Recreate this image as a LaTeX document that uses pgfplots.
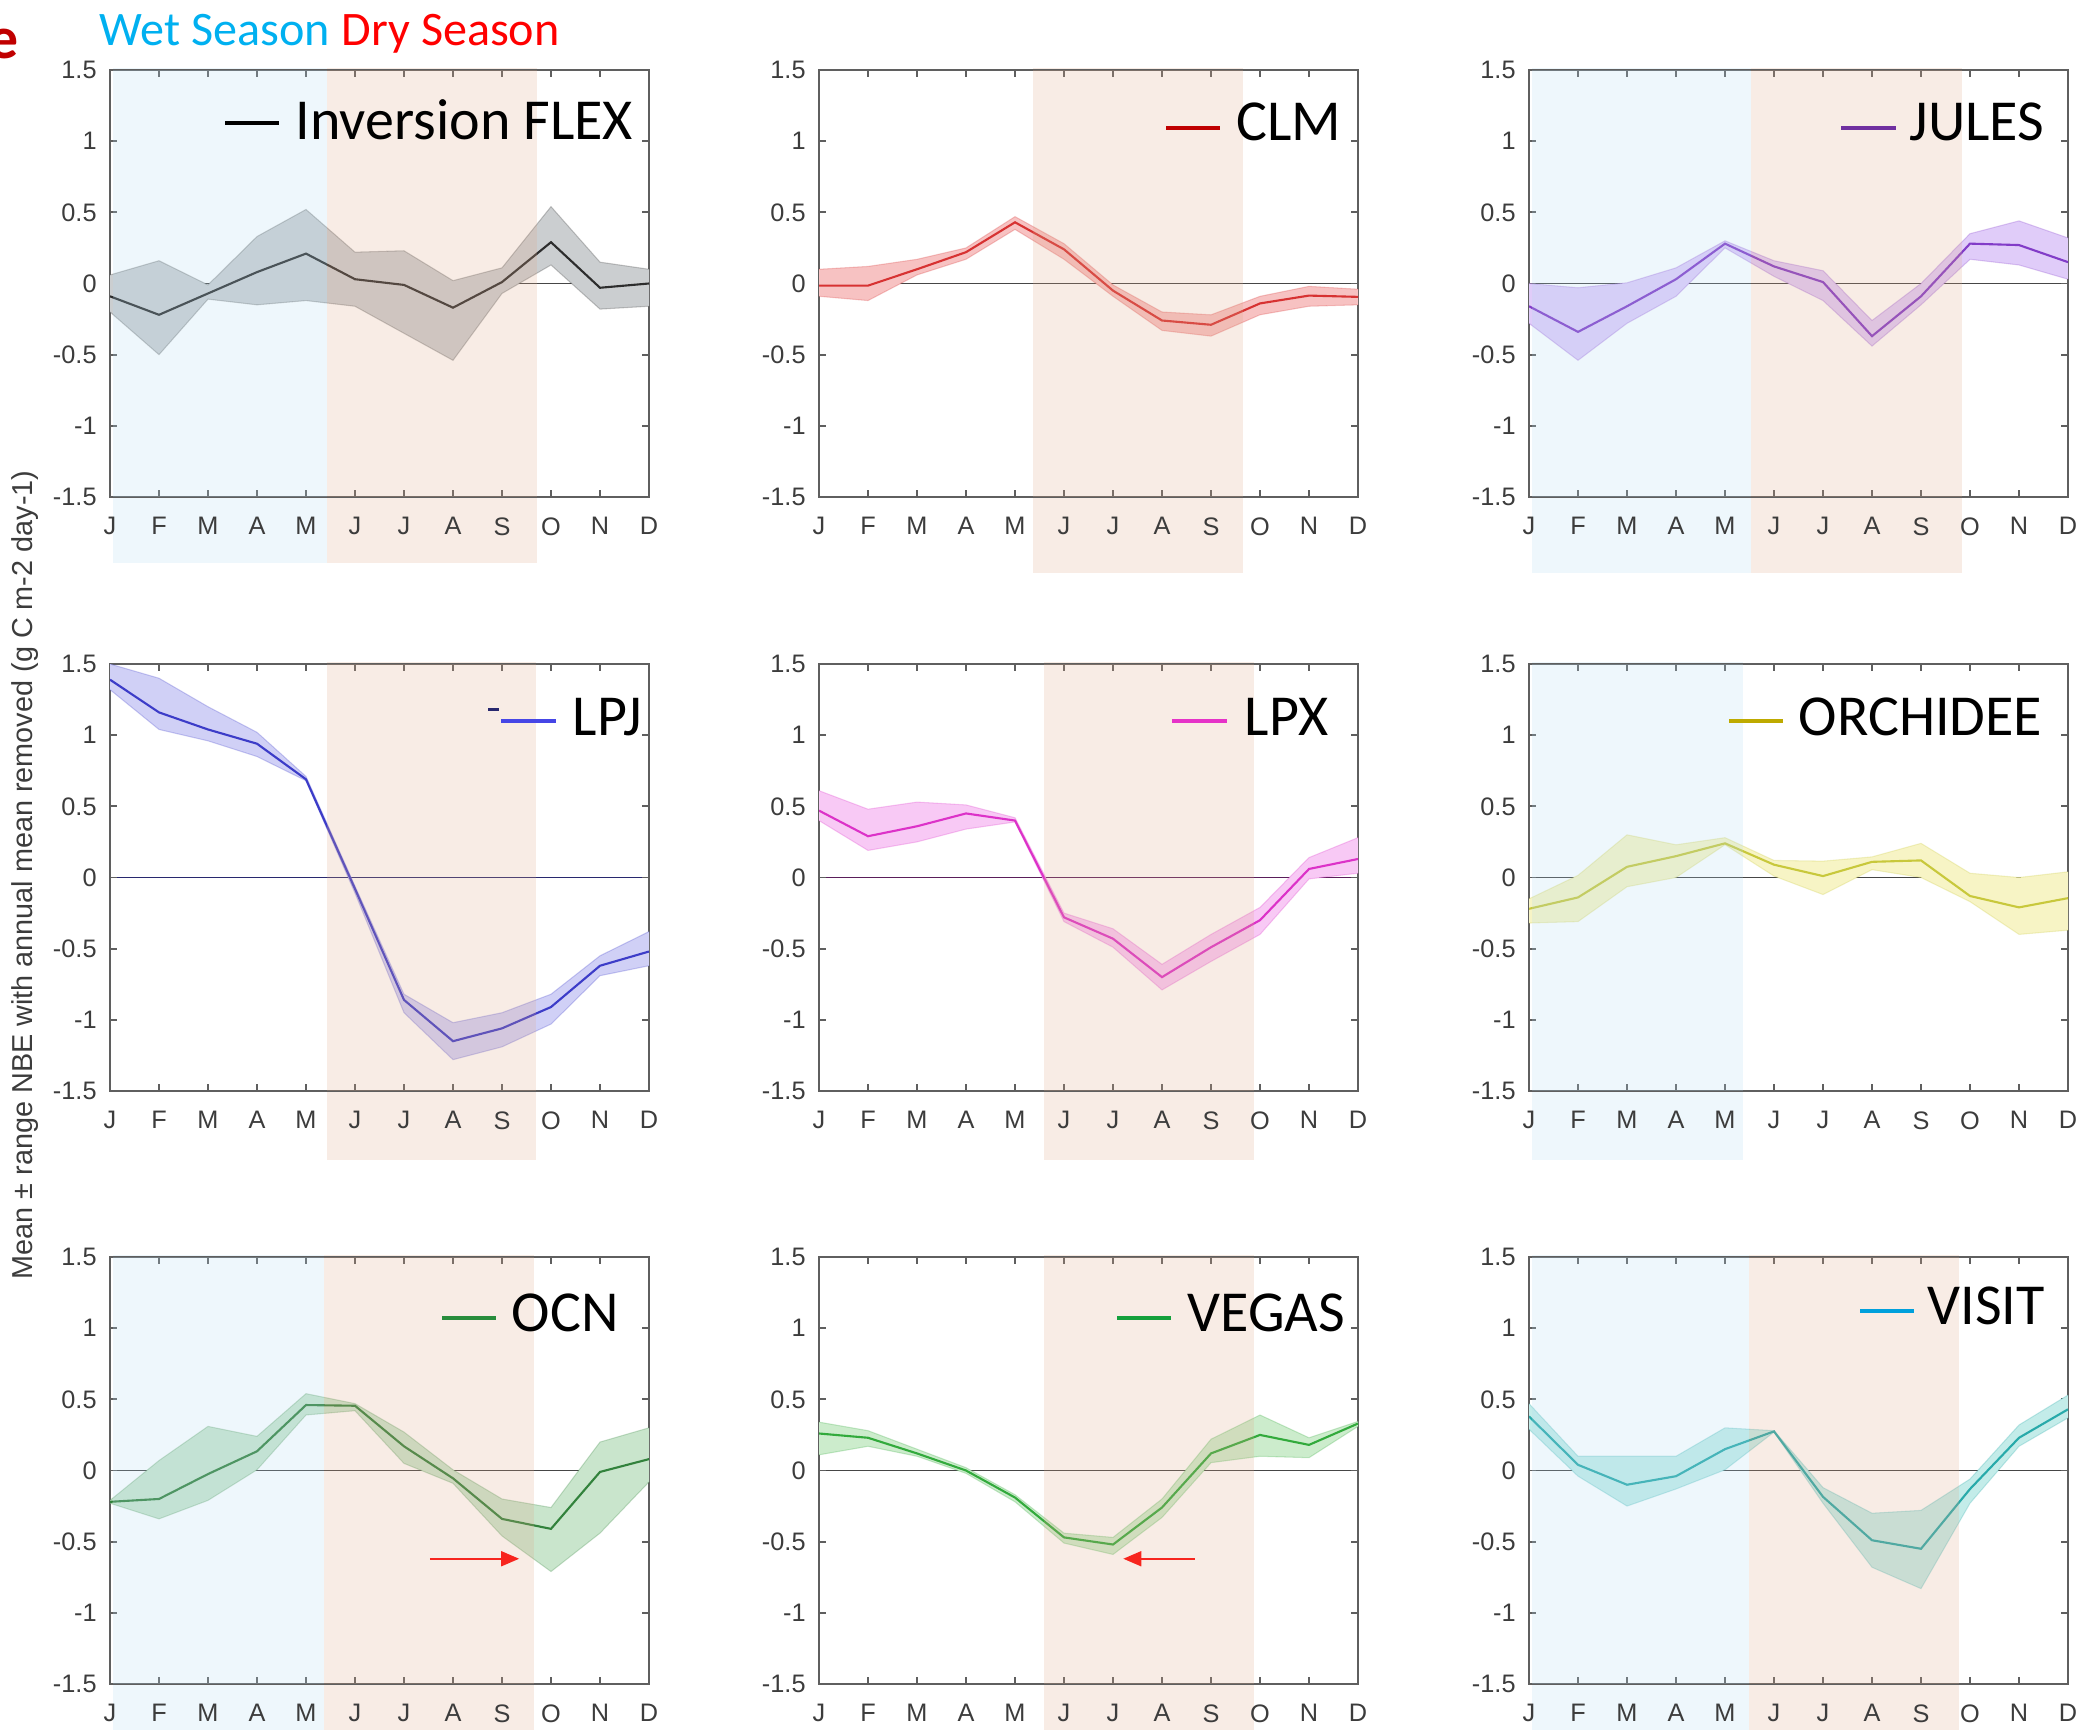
\documentclass[border=0pt]{standalone}
\usepackage{pgfplots}
\pgfplotsset{compat=1.18}
\usepackage{pgfplotstable}
\usepgfplotslibrary{fillbetween}
\usetikzlibrary{arrows.meta}
\usepackage{fontspec}
\setmainfont{Liberation Sans}
\newfontfamily\gill{Carlito}

% frame, text and season colours
\definecolor{axisgray}{RGB}{95,95,95}
\definecolor{labgray}{RGB}{60,60,60}
\definecolor{bandblue}{RGB}{238,247,252}
\definecolor{bandorange}{RGB}{248,236,229}
\definecolor{tintblue}{RGB}{178,219,241}
\definecolor{tintorange}{RGB}{223,169,137}
\definecolor{wetcyan}{RGB}{0,176,240}
\definecolor{dryred}{RGB}{255,0,0}
\definecolor{labred}{RGB}{192,0,0}
% model colours: legend key / mean line / range fill
\definecolor{flexkey}{RGB}{0,0,0}      \definecolor{flexline}{RGB}{45,45,45}    \definecolor{flexfill}{RGB}{203,206,208}
\definecolor{clmkey}{RGB}{192,0,0}     \definecolor{clmline}{RGB}{215,50,50}    \definecolor{clmfill}{RGB}{247,194,194}
\definecolor{juleskey}{RGB}{112,48,160}\definecolor{julesline}{RGB}{130,60,200} \definecolor{julesfill}{RGB}{224,204,249}
\definecolor{lpjkey}{RGB}{70,70,230}   \definecolor{lpjline}{RGB}{60,60,200}    \definecolor{lpjfill}{RGB}{208,208,246}
\definecolor{lpxkey}{RGB}{230,50,200}  \definecolor{lpxline}{RGB}{220,50,200}   \definecolor{lpxfill}{RGB}{248,201,245}
\definecolor{orckey}{RGB}{190,170,0}   \definecolor{orcline}{RGB}{200,200,60}   \definecolor{orcfill}{RGB}{247,244,197}
\definecolor{ocnkey}{RGB}{40,140,60}   \definecolor{ocnline}{RGB}{50,130,60}    \definecolor{ocnfill}{RGB}{201,229,204}
\definecolor{vegkey}{RGB}{20,160,60}   \definecolor{vegline}{RGB}{50,170,60}    \definecolor{vegfill}{RGB}{204,236,204}
\definecolor{viskey}{RGB}{0,160,220}   \definecolor{visline}{RGB}{40,170,170}   \definecolor{visfill}{RGB}{195,236,233}
\definecolor{zerogray}{RGB}{70,70,70}
\definecolor{zeronavy}{RGB}{40,40,110}
\definecolor{zeroplum}{RGB}{90,30,90}

% monthly NBE anomaly: mean, lower and upper end of the range
\pgfplotstableread{
m mean lo hi
1 -0.09 -0.20 0.06
2 -0.22 -0.50 0.16
3 -0.07 -0.11 -0.01
4 0.08 -0.15 0.33
5 0.21 -0.12 0.52
6 0.03 -0.16 0.22
7 -0.01 -0.35 0.23
8 -0.17 -0.54 0.02
9 0.01 -0.07 0.11
10 0.29 0.13 0.54
11 -0.03 -0.18 0.15
12 0.00 -0.16 0.10
}\flex
\pgfplotstableread{
m mean lo hi
1 -0.015 -0.09 0.10
2 -0.015 -0.12 0.12
3 0.10 0.06 0.17
4 0.22 0.17 0.25
5 0.43 0.38 0.47
6 0.24 0.17 0.28
7 -0.05 -0.09 -0.01
8 -0.26 -0.33 -0.20
9 -0.29 -0.37 -0.22
10 -0.14 -0.22 -0.09
11 -0.085 -0.16 -0.02
12 -0.094 -0.15 -0.04
}\clm
\pgfplotstableread{
m mean lo hi
1 -0.16 -0.28 0.00
2 -0.34 -0.54 -0.03
3 -0.16 -0.28 0.005
4 0.03 -0.09 0.11
5 0.28 0.25 0.30
6 0.12 0.05 0.16
7 0.01 -0.12 0.09
8 -0.37 -0.44 -0.26
9 -0.09 -0.15 0.00
10 0.28 0.17 0.35
11 0.27 0.13 0.44
12 0.15 0.03 0.32
}\jules
\pgfplotstableread{
m mean lo hi
1 1.39 1.32 1.50
2 1.16 1.04 1.40
3 1.04 0.96 1.20
4 0.94 0.85 1.02
5 0.69 0.68 0.71
6 -0.08 -0.11 -0.06
7 -0.86 -0.95 -0.82
8 -1.15 -1.28 -1.02
9 -1.06 -1.19 -0.95
10 -0.91 -1.03 -0.82
11 -0.62 -0.69 -0.55
12 -0.52 -0.62 -0.38
}\lpj
\pgfplotstableread{
m mean lo hi
1 0.47 0.40 0.61
2 0.29 0.19 0.48
3 0.36 0.25 0.53
4 0.45 0.34 0.51
5 0.40 0.39 0.42
6 -0.28 -0.31 -0.25
7 -0.43 -0.49 -0.36
8 -0.70 -0.79 -0.61
9 -0.49 -0.59 -0.40
10 -0.30 -0.40 -0.21
11 0.06 -0.01 0.14
12 0.13 0.03 0.28
}\lpx
\pgfplotstableread{
m mean lo hi
1 -0.22 -0.32 -0.15
2 -0.14 -0.31 0.015
3 0.075 -0.065 0.30
4 0.15 0.00 0.23
5 0.24 0.23 0.28
6 0.09 0.01 0.12
7 0.01 -0.12 0.115
8 0.11 0.055 0.145
9 0.12 0.00 0.24
10 -0.13 -0.17 0.03
11 -0.21 -0.40 0.00
12 -0.145 -0.37 0.04
}\orchidee
\pgfplotstableread{
m mean lo hi
1 -0.22 -0.23 -0.21
2 -0.20 -0.34 0.07
3 -0.025 -0.21 0.31
4 0.135 0.005 0.24
5 0.46 0.39 0.54
6 0.455 0.42 0.47
7 0.17 0.05 0.27
8 -0.055 -0.09 0.005
9 -0.34 -0.46 -0.20
10 -0.41 -0.71 -0.26
11 -0.01 -0.44 0.20
12 0.08 -0.08 0.30
}\ocn
\pgfplotstableread{
m mean lo hi
1 0.26 0.11 0.34
2 0.23 0.17 0.28
3 0.12 0.10 0.15
4 0.00 -0.02 0.02
5 -0.19 -0.22 -0.17
6 -0.47 -0.51 -0.44
7 -0.52 -0.59 -0.47
8 -0.26 -0.33 -0.20
9 0.12 0.055 0.22
10 0.25 0.10 0.39
11 0.18 0.09 0.23
12 0.33 0.31 0.345
}\vegas
\pgfplotstableread{
m mean lo hi
1 0.38 0.29 0.47
2 0.04 -0.04 0.10
3 -0.10 -0.25 0.10
4 -0.04 -0.13 0.10
5 0.15 0.005 0.30
6 0.275 0.27 0.28
7 -0.185 -0.23 -0.12
8 -0.49 -0.68 -0.30
9 -0.55 -0.83 -0.28
10 -0.13 -0.23 -0.06
11 0.23 0.17 0.32
12 0.43 0.37 0.53
}\visit

\pgfplotsset{
  panel/.style={
    set layers, clip mode=individual,
    scale only axis, width=53.9mm, height=42.7mm, anchor=south west,
    xmin=1, xmax=12, ymin=-1.5, ymax=1.5,
    xtick={1,...,12}, xticklabels={J,F,M,A,M,J,J,A,S,O,N,D},
    ytick={-1.5,-1,-0.5,0,0.5,1,1.5},
    yticklabels={-1.5,-1,-0.5,0,0.5,1,1.5},
    tick align=inside, tick pos=both, major tick length=0.7mm,
    axis line style={draw=axisgray, line width=0.55pt},
    tick style={draw=axisgray, line width=0.5pt},
    tick label style={font=\fontsize{7.2}{8.5}\selectfont, text=labgray},
    xticklabel style={yshift=-0.8mm},
    yticklabel style={xshift=-0.1mm},
    no markers,
  },
}

% season shading: a light tint laid over the panel, and the same colour
% continued above it and down past the month labels
% #1 tint, #2 plain colour, #3 first month, #4 last month, #5 lower end
\newcommand{\season}[5]{%
  \begin{pgfonlayer}{axis background}
    \fill[#2] (axis cs:#3,1.514) rectangle (axis cs:#4,1.5);
    \fill[#2] (axis cs:#3,-1.5) rectangle (axis cs:#4,#5);
  \end{pgfonlayer}
  \begin{pgfonlayer}{axis foreground}
    \fill[#1, fill opacity=0.22] (axis cs:#3,1.5) rectangle (axis cs:#4,-1.5);
  \end{pgfonlayer}
}

% zero line, range band and mean of one model
% #1 table, #2 mean colour, #3 fill colour, #4 path suffix, #5 zero-line colour
\newcommand{\model}[5]{%
  \addplot[draw=#5, line width=0.5pt, on layer=axis grid] coordinates {(1,0) (12,0)};
  \addplot[name path=hi#4, draw=#2, draw opacity=0.25, line width=0.3pt] table[x=m,y=hi]{#1};
  \addplot[name path=lo#4, draw=#2, draw opacity=0.25, line width=0.3pt] table[x=m,y=lo]{#1};
  \addplot[fill=#3, draw=none] fill between[of=hi#4 and lo#4];
  \addplot[draw=#2, line width=0.6pt] table[x=m,y=mean]{#1};
}

% legend key: line from x1 to x2 at y, name starting at xt on baseline b
\newcommand{\key}[7]{%
  \draw[draw=#1, line width=1.05pt] (#2,#4) -- (#3,#4);
  \node[anchor=base west, inner sep=0, font=\gill\fontsize{16.5}{18}\selectfont] at (#5,#6) {#7};
}

\begin{document}
\begin{tikzpicture}
% row 1
\begin{axis}[panel, at={(11.0mm,-49.7mm)}]
  \season{tintblue}{bandblue}{1.07}{5.43}{-1.964}
  \season{tintorange}{bandorange}{5.43}{9.72}{-1.964}
  \model{\flex}{flexline}{flexfill}{a}{zerogray}
\end{axis}
\begin{axis}[panel, at={(81.9mm,-49.7mm)}]
  \season{tintorange}{bandorange}{5.37}{9.65}{-2.034}
  \model{\clm}{clmline}{clmfill}{b}{zerogray}
\end{axis}
\begin{axis}[panel, at={(152.9mm,-49.7mm)}]
  \season{tintblue}{bandblue}{1.07}{5.54}{-2.034}
  \season{tintorange}{bandorange}{5.54}{9.83}{-2.034}
  \model{\jules}{julesline}{julesfill}{c}{zerogray}
\end{axis}
% row 2
\begin{axis}[panel, at={(11.0mm,-109.1mm)}]
  \season{tintorange}{bandorange}{5.42}{9.70}{-1.985}
  \model{\lpj}{lpjline}{lpjfill}{d}{zeronavy}
\end{axis}
\begin{axis}[panel, at={(81.9mm,-109.1mm)}]
  \season{tintorange}{bandorange}{5.59}{9.87}{-1.985}
  \model{\lpx}{lpxline}{lpxfill}{e}{zeroplum}
\end{axis}
\begin{axis}[panel, at={(152.9mm,-109.1mm)}]
  \season{tintblue}{bandblue}{1.07}{5.37}{-1.985}
  \model{\orchidee}{orcline}{orcfill}{f}{zerogray}
\end{axis}
% row 3
\begin{axis}[panel, at={(11.0mm,-168.4mm)}]
  \season{tintblue}{bandblue}{1.07}{5.37}{-1.9}
  \season{tintorange}{bandorange}{5.37}{9.65}{-1.9}
  \model{\ocn}{ocnline}{ocnfill}{g}{zerogray}
  \draw[red, line width=0.5pt, -{Triangle[length=1.8mm, width=1.5mm]}]
    (axis cs:7.53,-0.62) -- (axis cs:9.35,-0.62);
\end{axis}
\begin{axis}[panel, at={(81.9mm,-168.4mm)}]
  \season{tintorange}{bandorange}{5.59}{9.87}{-1.9}
  \model{\vegas}{vegline}{vegfill}{h}{zerogray}
  \draw[red, line width=0.5pt, -{Triangle[length=1.8mm, width=1.5mm]}]
    (axis cs:8.67,-0.62) -- (axis cs:7.21,-0.62);
\end{axis}
\begin{axis}[panel, at={(152.9mm,-168.4mm)}]
  \season{tintblue}{bandblue}{1.07}{5.48}{-1.9}
  \season{tintorange}{bandorange}{5.48}{9.78}{-1.9}
  \model{\visit}{visline}{visfill}{i}{zerogray}
\end{axis}

\begin{pgfonlayer}{axis foreground}
\begin{scope}[x=0.1mm, y=-0.1mm]
  % panel letter and season captions
  \node[anchor=base west, inner sep=0, text=labred,
        font=\gill\bfseries\fontsize{17}{20}\selectfont] at (-12,59) {e};
  \node[anchor=base west, inner sep=0, text=wetcyan,
        font=\gill\fontsize{13.7}{16}\selectfont] at (99,46) {Wet Season};
  \node[anchor=base west, inner sep=0, text=dryred,
        font=\gill\fontsize{13.7}{16}\selectfont] at (341,46) {Dry Season};
  % shared y label
  \node[rotate=90, text=labgray, font=\fontsize{8.2}{10}\selectfont] at (25,875)
    {Mean ± range NBE with annual mean removed (g C m-2 day-1)};
  % legends
  \key{flexkey}{225}{279}{123}{295}{140}{Inversion FLEX}
  \key{clmkey}{1166}{1220}{128}{1236}{141}{CLM}
  \key{juleskey}{1841}{1896}{128}{1909}{141}{JULES}
  \draw[draw=zeronavy, line width=0.8pt] (488,709.5) -- (499,709.5);
  \key{lpjkey}{501}{556}{721}{572}{735}{LPJ}
  \key{lpxkey}{1172}{1227}{721}{1244}{735}{LPX}
  \key{orckey}{1729}{1783}{721}{1798}{735}{ORCHIDEE}
  \key{ocnkey}{442}{496}{1318}{511}{1331}{OCN}
  \key{vegkey}{1117}{1171}{1318}{1187}{1331}{VEGAS}
  \key{viskey}{1860}{1914}{1311}{1927}{1324}{VISIT}
\end{scope}
\end{pgfonlayer}
% page is the 2078 x 1730 frame; the panel letter runs off its left edge
\pgfresetboundingbox
\path[use as bounding box] (0,0) rectangle (207.8mm,-173.0mm);
\end{tikzpicture}
\end{document}
